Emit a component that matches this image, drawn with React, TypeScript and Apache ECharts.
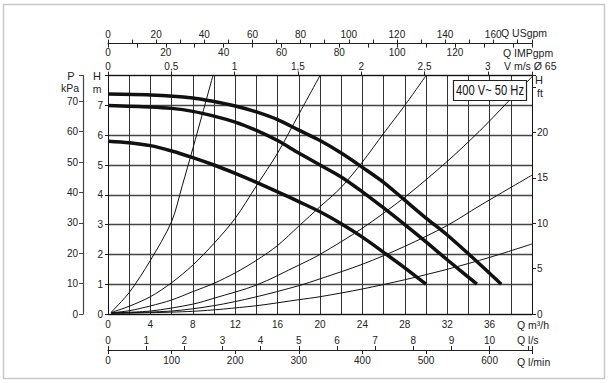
import React, { useEffect, useRef } from "react";
import * as echarts from "echarts";

// Main scale: flow Q in m³/h, head H in m
const Q_MAX = 40;
const H_MAX = 8;

// Unit conversion factors from m³/h / m
const USGPM_PER_M3H = 4.40287;
const IMPGPM_PER_M3H = 3.66615;
const LS_PER_M3H = 1 / 3.6;
const LMIN_PER_M3H = 1000 / 60;
const VMS_PER_M3H = 1 / (3600 * Math.PI * 0.065 * 0.065 / 4);
const KPA_PER_M = 9.80665;
const FT_PER_M = 3.28084;

// Last labelled tick of each axis
const LAST_M3H = 36;
const LAST_USGPM = 160;
const LAST_IMPGPM = 120;
const LAST_VMS = 3;
const LAST_LS = 10;
const LAST_LMIN = 600;
const LAST_H = 7;
const LAST_KPA = 70;
const LAST_FT = 20;

// Pump curves (Q m³/h, H m)
const pumpHigh: number[][] = [[0, 7.38], [4, 7.35], [8, 7.25], [10, 7.13], [12, 6.98], [14, 6.78], [16, 6.52], [18, 6.17], [20, 5.82], [22, 5.4], [24, 4.92], [26, 4.42], [28, 3.82], [30, 3.22], [32, 2.65], [34, 2.02], [36, 1.37], [37.1, 1.0]];
const pumpMid: number[][] = [[0, 7.0], [4, 6.95], [6, 6.9], [8, 6.8], [10, 6.64], [12, 6.44], [14, 6.16], [16, 5.82], [18, 5.4], [20, 5.0], [22, 4.6], [24, 4.1], [26, 3.56], [28, 3.0], [30, 2.42], [32, 1.82], [34, 1.24], [34.8, 1.0]];
const pumpLow: number[][] = [[0, 5.8], [2, 5.75], [4, 5.65], [6, 5.47], [8, 5.25], [10, 5.0], [12, 4.72], [14, 4.42], [16, 4.1], [18, 3.77], [20, 3.43], [22, 3.03], [24, 2.58], [26, 2.07], [28, 1.55], [30, 1.0]];

// System curves (Q m³/h, H m)
const sysA: number[][] = [[0.3, 0.06], [2, 0.72], [4, 1.8], [6, 3.1], [7, 4.3], [8, 5.55], [9.9, 8.0]];
const sysB: number[][] = [[0.3, 0.05], [2, 0.26], [4, 0.58], [6, 1.05], [8, 1.64], [10, 2.37], [12, 3.21], [14, 4.3], [16, 5.4], [18, 6.7], [20, 8.0]];
const sysC: number[][] = [[0.3, 0.04], [2, 0.11], [4, 0.27], [6, 0.47], [8, 0.75], [10, 1.03], [12, 1.38], [14, 1.8], [16, 2.3], [18, 2.95], [20, 3.6], [22, 4.25], [24, 5.1], [26, 6.06], [28, 7.0], [30, 8.0]];
const sysD: number[][] = [[0.3, 0.04], [4, 0.1], [8, 0.33], [10, 0.53], [14, 0.97], [18, 1.64], [20, 2.0], [24, 2.88], [28, 3.92], [32, 5.12], [35, 6.12], [37.6, 7.07], [40, 7.96]];
const sysE: number[][] = [[0.3, 0.03], [6, 0.1], [10, 0.28], [13.8, 0.56], [18, 0.95], [20, 1.18], [24, 1.67], [28, 2.27], [32, 2.97], [35, 3.62], [40, 4.66]];
const sysF: number[][] = [[0.3, 0.02], [8, 0.09], [13.8, 0.27], [18, 0.48], [20, 0.58], [24, 0.84], [28, 1.15], [32, 1.5], [36, 1.9], [40, 2.35]];

const legendText = "400 V~ 50 Hz";

const FONT = "'Liberation Sans', Arial, Helvetica, sans-serif";
const TXT = "#222";

const onStep = (step: number, last: number) => (v: number) => {
  const r = v / step;
  if (Math.abs(r - Math.round(r)) > 1e-6 || v > last + 1e-6) return "";
  return String(Math.round(v * 100) / 100).replace(".", ",");
};

export default function App() {
  const ref = useRef<HTMLDivElement>(null);
  useEffect(() => {
    if (!ref.current) return;
    const chart = echarts.init(ref.current, undefined, { renderer: "svg" });
    const lbl = { fontSize: 10, fontFamily: FONT, color: TXT, interval: 0 };
    const noSplit = { show: false };
    const thin = (data: number[][]) => ({
      type: "line", data, xAxisIndex: 0, yAxisIndex: 0, showSymbol: false, smooth: 0.3,
      lineStyle: { color: "#111", width: 1 }, silent: true, z: 3,
    });
    const thick = (data: number[][]) => ({
      type: "line", data, xAxisIndex: 0, yAxisIndex: 0, showSymbol: false, smooth: 0.3,
      lineStyle: { color: "#111", width: 3.5 }, silent: true, z: 4,
    });
    const name = (text: string, x: number, y: number, align = "left", size = 10.5) => ({
      type: "text", z: 110,
      style: { text, x, y, fill: TXT, font: `${size}px ${FONT}`, textAlign: align, align, textVerticalAlign: "middle", verticalAlign: "middle" },
    });
    chart.setOption({
      animation: false,
      backgroundColor: "#fff",
      grid: { left: 108, top: 75.6, right: 84, bottom: 69 },
      xAxis: [
        {
          type: "value", position: "bottom", min: 0, max: Q_MAX, interval: 2,
          axisLine: { show: true, onZero: false, lineStyle: { color: "#111", width: 1 } },
          axisTick: { show: false },
          axisLabel: { ...lbl, margin: 5, formatter: onStep(4, LAST_M3H) },
          splitLine: { show: true, lineStyle: { color: "#333", width: 1 } },
        },
        {
          type: "value", position: "top", offset: 32, min: 0, max: Q_MAX * USGPM_PER_M3H, interval: 10,
          axisLine: { show: true, onZero: false, lineStyle: { color: "#222", width: 1.2 } },
          axisTick: { show: true, length: 4, lineStyle: { color: "#222" } },
          axisLabel: { ...lbl, margin: 4, formatter: onStep(20, LAST_USGPM) },
          splitLine: noSplit,
        },
        {
          type: "value", position: "top", offset: 32, min: 0, max: Q_MAX * IMPGPM_PER_M3H, interval: 10,
          axisLine: { show: false, onZero: false },
          axisTick: { show: true, inside: true, length: 4, lineStyle: { color: "#222" } },
          axisLabel: { ...lbl, inside: true, margin: 4, formatter: onStep(20, LAST_IMPGPM) },
          splitLine: noSplit,
        },
        {
          type: "value", position: "top", offset: 0, min: 0, max: Q_MAX * VMS_PER_M3H, interval: 0.5,
          axisLine: { show: true, onZero: false, lineStyle: { color: "#111", width: 1 } },
          axisTick: { show: true, length: 4, lineStyle: { color: "#222" } },
          axisLabel: { ...lbl, margin: 4, formatter: onStep(0.5, LAST_VMS) },
          splitLine: noSplit,
        },
        {
          type: "value", position: "bottom", offset: 36, min: 0, max: Q_MAX * LS_PER_M3H, interval: 1,
          axisLine: { show: true, onZero: false, lineStyle: { color: "#222", width: 1.2 } },
          axisTick: { show: true, inside: true, length: 4, lineStyle: { color: "#222" } },
          axisLabel: { ...lbl, inside: true, margin: 5, formatter: onStep(1, LAST_LS) },
          splitLine: noSplit,
        },
        {
          type: "value", position: "bottom", offset: 36, min: 0, max: Q_MAX * LMIN_PER_M3H, interval: 100,
          axisLine: { show: false, onZero: false },
          axisTick: { show: true, length: 4, lineStyle: { color: "#222" } },
          axisLabel: { ...lbl, margin: 5, formatter: onStep(100, LAST_LMIN) },
          splitLine: noSplit,
        },
      ],
      yAxis: [
        {
          type: "value", position: "left", min: 0, max: H_MAX, interval: 1,
          axisLine: { show: true, onZero: false, lineStyle: { color: "#111", width: 1 } },
          axisTick: { show: true, length: 3, lineStyle: { color: "#222" } },
          axisLabel: { ...lbl, margin: 5, formatter: onStep(1, LAST_H) },
          splitLine: { show: true, lineStyle: { color: "#444", width: 1.3 } },
        },
        {
          type: "value", position: "left", offset: 25, min: 0, max: H_MAX * KPA_PER_M, interval: 10,
          axisLine: { show: true, onZero: false, lineStyle: { color: "#444", width: 1.2 } },
          axisTick: { show: true, length: 4, lineStyle: { color: "#444" } },
          axisLabel: { ...lbl, margin: 5, formatter: onStep(10, LAST_KPA) },
          splitLine: noSplit,
        },
        {
          type: "value", position: "right", offset: 0, min: 0, max: H_MAX * FT_PER_M, interval: 5,
          axisLine: { show: true, onZero: false, lineStyle: { color: "#111", width: 1 } },
          axisTick: { show: true, length: 4, lineStyle: { color: "#222" } },
          axisLabel: { ...lbl, margin: 5, formatter: onStep(5, LAST_FT) },
          splitLine: noSplit,
        },
      ],
      series: [
        thin(sysA), thin(sysB), thin(sysC), thin(sysD), thin(sysE), thin(sysF),
        thick(pumpHigh), thick(pumpMid), thick(pumpLow),
      ],
      graphic: [
        { type: "rect", z: 0, shape: { x: 3.5, y: 4.5, width: 601, height: 374 }, style: { fill: "none", stroke: "#c8c8c8", lineWidth: 1.5 } },
        { type: "rect", z: 100, shape: { x: 453.5, y: 80.5, width: 73, height: 20 }, style: { fill: "#fff", stroke: "#222", lineWidth: 1.2 } },
        {
          type: "text", z: 101, x: 490, y: 91, scaleX: 0.8,
          style: { text: legendText, x: 0, y: 0, fill: "#111", font: `14px ${FONT}`, textAlign: "center", align: "center", textVerticalAlign: "middle", verticalAlign: "middle" },
        },
        name("P", 71, 76, "center", 11),
        name("kPa", 70, 88, "center"),
        name("H", 97, 76, "center", 11),
        name("m", 97, 89, "center"),
        name("H", 539, 80, "center", 11),
        name("ft", 540, 93, "center"),
        name("Q USgpm", 501, 33),
        name("Q IMPgpm", 503, 53),
        name("V m/s Ø 65", 504, 66),
        name("Q m³/h", 517, 325),
        name("Q l/s", 517, 340),
        name("Q l/min", 517, 362),
      ],
    });
    return () => chart.dispose();
  }, []);
  return <div ref={ref} style={{ position: "fixed", left: 0, top: 0, width: 616, height: 383, background: "#fff" }} />;
}
